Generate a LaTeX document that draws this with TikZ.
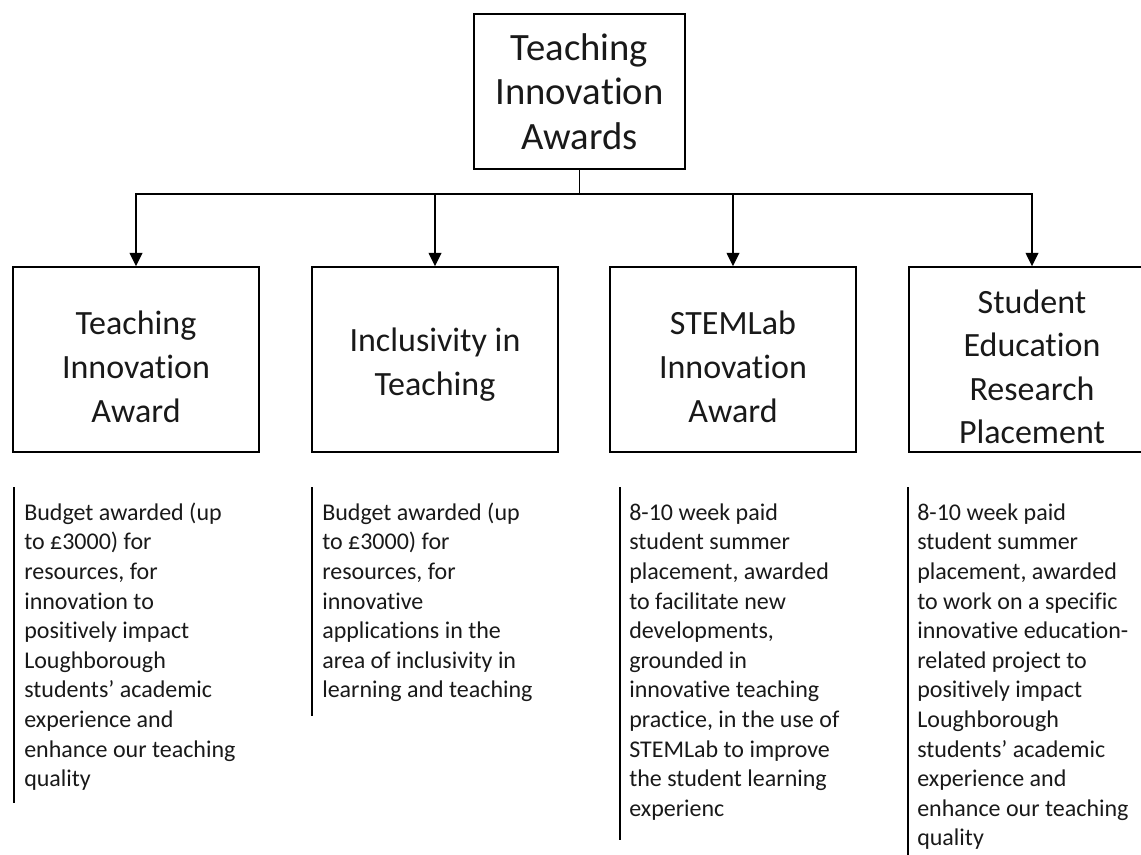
\documentclass[tikz,border=0pt]{standalone}
\usepackage{fontspec}
\setmainfont{Carlito}[Ligatures=CommonOff]
\usetikzlibrary{arrows.meta}
\begin{document}
\begin{tikzpicture}[x=0.75pt,y=-0.75pt,
  line/.style={draw=black,line width=1.1pt},
  arr/.style={line,-{Triangle[length=10pt,width=9.5pt]}},
  topbox/.style={line,rectangle,minimum width=158.25pt,minimum height=116.25pt,align=center,inner sep=0pt,
    font=\fontsize{29pt}{33.5pt}\selectfont,text=black!90},
  awardbox/.style={line,rectangle,minimum width=184.5pt,minimum height=138.75pt,inner sep=0pt},
  awardtext/.style={align=center,inner sep=0pt,
    font=\fontsize{25.5pt}{32.7pt}\selectfont,text=black!90},
  desc/.style={anchor=north west,align=left,inner sep=0pt,
    font=\fontsize{18pt}{22.2pt}\selectfont,text=black!90},
  bar/.style={draw=black,line width=1.1pt}]
\useasboundingbox (0,0) rectangle (1141,854);
\clip (0,0) rectangle (1141,854);

\node[topbox] (top) at (579.5,91.5) {Teaching\\Innovation\\Awards};

\node[awardbox] (c1) at (136,359.5) {};
\node[awardbox] (c2) at (435,359.5) {};
\node[awardbox] (c3) at (733,359.5) {};
\node[awardbox] (c4) at (1032,359.5) {};
\node[awardtext] (c1t) at ([yshift=-5.5pt]c1.center) {Teaching\\Innovation\\Award};
\node[awardtext] (c2t) at ([yshift=-4pt]c2.center) {Inclusivity in\\Teaching};
\node[awardtext] (c3t) at ([yshift=-5.5pt]c3.center) {STEMLab\\Innovation\\Award};
\node[awardtext] (c4t) at ([yshift=-5.5pt]c4.center) {Student\\Education\\Research\\Placement};

\coordinate (hub) at (579.5,194);
\draw[line] (top.south) -- (hub);
\draw[arr] (hub) -| (c1.north);
\draw[arr] (hub) -| (c2.north);
\draw[arr] (hub) -| (c3.north);
\draw[arr] (hub) -| (c4.north);

\coordinate (b1t) at (14,487);  \coordinate (b1b) at (14,803);
\coordinate (b2t) at (312,487); \coordinate (b2b) at (312,716);
\coordinate (b3t) at (620,487); \coordinate (b3b) at (620,840);
\coordinate (b4t) at (908,487); \coordinate (b4b) at (908,860);
\draw[bar] (b1t) -- (b1b);
\draw[bar] (b2t) -- (b2b);
\draw[bar] (b3t) -- (b3b);
\draw[bar] (b4t) -- (b4b);

\node[desc] (d1) at (24,500) {\rule{0pt}{15pt}Budget awarded (up\\to £3000) for\\resources, for\\innovation to\\positively impact\\Loughborough\\students’ academic\\experience and\\enhance our teaching\\quality};
\node[desc] (d2) at (322,500) {\rule{0pt}{15pt}Budget awarded (up\\to £3000) for\\resources, for\\innovative\\applications in the\\area of inclusivity in\\learning and teaching};
\node[desc] (d3) at (629,500) {\rule{0pt}{15pt}8-10 week paid\\student summer\\placement, awarded\\to facilitate new\\developments,\\grounded in\\innovative teaching\\practice, in the use of\\STEMLab to improve\\the student learning\\experienc};
\node[desc] (d4) at (917,500) {\rule{0pt}{15pt}8-10 week paid\\student summer\\placement, awarded\\to work on a specific\\innovative education-\\related project to\\positively impact\\Loughborough\\students’ academic\\experience and\\enhance our teaching\\quality};
\end{tikzpicture}
\end{document}
